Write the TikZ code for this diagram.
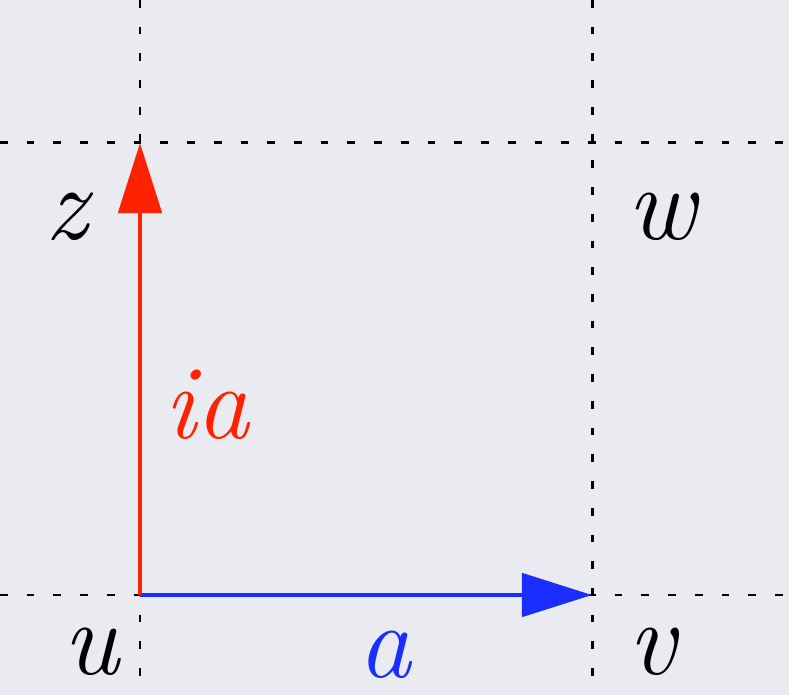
\documentclass[tikz,border=0pt]{standalone}
\usepackage{tikz}
\usetikzlibrary{arrows.meta}
\definecolor{bgpaper}{RGB}{234,235,240}
\definecolor{vecred}{RGB}{255,34,0}
\definecolor{vecblue}{RGB}{26,46,255}

\begin{document}
\begin{tikzpicture}[>=Stealth, x=0.01cm, y=-0.01cm,
    grid/.style={black, line width=0.85pt, dash pattern=on 2.2pt off 5.4pt},
    vec/.style={line width=1.4pt, -{Triangle[length=0.7cm, width=0.43cm]}},
    lbl/.style={font=\fontsize{30}{33}\selectfont\itshape}]
  \fill[bgpaper] (0,0) rectangle (789,695);
  \useasboundingbox (0,0) rectangle (789,695);
  % corners of the square
  \coordinate (u) at (140,595);
  \coordinate (v) at (592,595);
  \coordinate (w) at (592,143);
  \coordinate (z) at (140,143);
  \foreach \c in {u,w}{
    \draw[grid] (\c |- 0,0) -- (\c |- 0,695);
    \draw[grid] (\c -| 0,0) -- (\c -| 789,0);
  }
  \draw[vec, vecblue] (u) -- (v);
  \draw[vec, vecred] (u) -- (z);
  \node[lbl] (zl) at (67,217) {z};
  \node[lbl] (wl) at (662,217) {w};
  \node[lbl] (ul) at (91,652) {u};
  \node[lbl] (vl) at (652,652) {v};
  \node[lbl, text=vecred] (ial) at (207,405) {ia};
  \node[lbl, text=vecblue] (al) at (385,655) {a};
\end{tikzpicture}
\end{document}
